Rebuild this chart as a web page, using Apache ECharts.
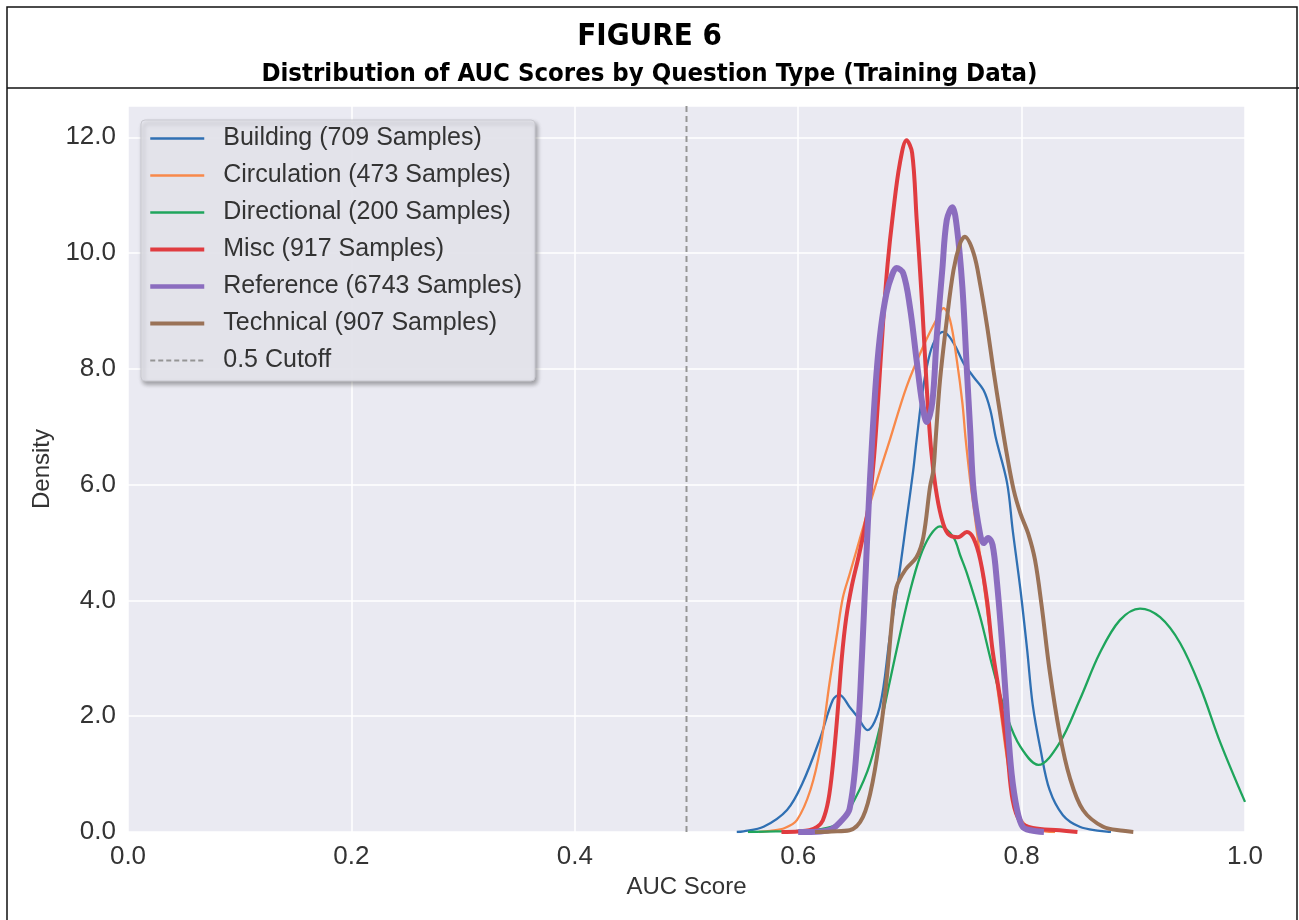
<!DOCTYPE html>
<html>
<head>
<meta charset="utf-8">
<title>Figure 6 - Distribution of AUC Scores</title>
<script src="https://cdn.jsdelivr.net/npm/echarts@6/dist/echarts.min.js"></script>
<style>
  html, body { margin: 0; background: #fff; }
  #chart { width: 1299px; height: 920px; }
</style>
</head>
<body>
<div id="chart"></div>
<script>
// names shown in the legend, same order as the series below
const seriesNames = [
  'Building (709 Samples)',
  'Circulation (473 Samples)',
  'Directional (200 Samples)',
  'Misc (917 Samples)',
  'Reference (6743 Samples)',
  'Technical (907 Samples)'
];
const cutoffName = '0.5 Cutoff';
const cutoffX = 0.5;

// density curves, [auc, density]
const building = [[0.545,0],[0.551,0.01],[0.569,0.09],[0.590,0.38],[0.604,0.85],[0.620,1.64],[0.631,2.28],[0.637,2.37],[0.646,2.16],[0.653,1.99],[0.662,1.76],[0.673,2.16],[0.682,3.37],[0.691,4.53],[0.697,5.39],[0.703,6.25],[0.706,6.77],[0.712,7.69],[0.718,8.27],[0.724,8.55],[0.730,8.64],[0.739,8.45],[0.748,8.10],[0.757,7.86],[0.766,7.63],[0.772,7.29],[0.777,6.80],[0.787,6.03],[0.792,5.22],[0.799,4.18],[0.805,3.14],[0.810,2.19],[0.817,1.42],[0.825,0.73],[0.837,0.29],[0.852,0.09],[0.870,0.02],[0.880,0]];
const circulation = [[0.565,0],[0.575,0.02],[0.588,0.07],[0.599,0.21],[0.611,0.73],[0.620,1.47],[0.628,2.57],[0.635,3.45],[0.640,4.05],[0.646,4.45],[0.652,4.85],[0.659,5.32],[0.671,6.10],[0.682,6.77],[0.697,7.69],[0.712,8.39],[0.724,8.86],[0.730,9.05],[0.736,8.84],[0.742,8.15],[0.747,7.41],[0.750,6.77],[0.755,5.91],[0.763,4.75],[0.772,3.40],[0.781,2.11],[0.790,0.90],[0.799,0.24],[0.808,0.07],[0.821,0.01],[0.830,0]];
const directional = [[0.555,0],[0.580,0.01],[0.600,0.02],[0.620,0.05],[0.635,0.14],[0.646,0.40],[0.662,1.05],[0.673,1.80],[0.682,2.60],[0.691,3.40],[0.700,4.15],[0.709,4.75],[0.718,5.12],[0.727,5.28],[0.739,5.09],[0.745,4.78],[0.751,4.47],[0.763,3.71],[0.774,2.85],[0.787,1.99],[0.799,1.47],[0.815,1.16],[0.834,1.54],[0.852,2.28],[0.870,3.09],[0.888,3.66],[0.906,3.86],[0.924,3.71],[0.942,3.26],[0.960,2.50],[0.978,1.54],[1.0,0.52]];
const misc = [[0.585,0],[0.600,0.01],[0.610,0.03],[0.617,0.09],[0.622,0.20],[0.627,0.55],[0.631,1.15],[0.635,2.00],[0.639,3.00],[0.643,3.70],[0.648,4.25],[0.654,4.75],[0.659,5.20],[0.664,5.75],[0.668,6.50],[0.672,7.60],[0.676,8.80],[0.680,9.80],[0.685,10.70],[0.691,11.55],[0.697,11.95],[0.702,11.73],[0.706,10.60],[0.711,9.10],[0.715,7.70],[0.719,6.60],[0.723,5.95],[0.728,5.45],[0.734,5.15],[0.743,5.09],[0.751,5.18],[0.757,5.07],[0.763,4.70],[0.769,4.01],[0.774,3.14],[0.781,2.28],[0.787,1.42],[0.792,0.55],[0.799,0.17],[0.810,0.07],[0.834,0.03],[0.850,0]];
const reference = [[0.600,0],[0.620,0.01],[0.630,0.05],[0.637,0.16],[0.646,0.40],[0.653,1.60],[0.657,3.00],[0.660,4.30],[0.663,5.60],[0.666,6.70],[0.670,7.90],[0.674,8.70],[0.679,9.30],[0.684,9.62],[0.688,9.74],[0.694,9.65],[0.700,9.07],[0.706,8.15],[0.711,7.41],[0.715,7.08],[0.720,7.41],[0.724,8.55],[0.729,9.71],[0.733,10.57],[0.738,10.79],[0.742,10.45],[0.747,9.41],[0.751,7.98],[0.754,6.94],[0.757,5.91],[0.763,5.13],[0.766,4.99],[0.770,5.08],[0.774,4.96],[0.778,4.30],[0.783,3.14],[0.787,1.99],[0.791,1.02],[0.796,0.38],[0.801,0.09],[0.808,0.03],[0.820,0]];
const technical = [[0.615,0],[0.630,0.01],[0.646,0.03],[0.658,0.26],[0.667,0.90],[0.675,1.93],[0.680,2.80],[0.684,3.66],[0.688,4.23],[0.696,4.53],[0.706,4.75],[0.712,5.09],[0.718,5.96],[0.721,6.25],[0.723,6.77],[0.727,7.81],[0.733,8.84],[0.739,9.70],[0.745,10.17],[0.749,10.28],[0.757,10.00],[0.763,9.45],[0.769,8.75],[0.775,7.95],[0.781,7.20],[0.787,6.50],[0.793,5.90],[0.799,5.50],[0.806,5.15],[0.812,4.70],[0.818,3.90],[0.825,2.80],[0.834,1.71],[0.843,0.95],[0.855,0.38],[0.873,0.09],[0.891,0.02],[0.900,0]];

const curves = [building, circulation, directional, misc, reference, technical];
const colors = ['#3070b3', '#f8894a', '#1fa55c', '#e03c40', '#8b6dbf', '#9a7257'];
const widths = [2.3, 2.3, 2.3, 4, 6, 4];

const xTicks = [0.0, 0.2, 0.4, 0.6, 0.8, 1.0];
const yTicks = [0.0, 2.0, 4.0, 6.0, 8.0, 10.0, 12.0];
const yTop = 12.54;

const chart = echarts.init(document.getElementById('chart'));

const series = curves.map((pts, i) => ({
  name: seriesNames[i],
  type: 'line',
  data: pts,
  smooth: 0.35,
  symbol: 'none',
  lineStyle: { color: colors[i], width: widths[i] },
  itemStyle: { color: colors[i] }
}));
series.push({
  name: cutoffName,
  type: 'line',
  data: [[cutoffX, 0], [cutoffX, yTop]],
  symbol: 'none',
  lineStyle: { color: '#959595', width: 2, type: [6, 4] },
  itemStyle: { color: '#959595' }
});

// legend entries: plain line samples, no marker dot
const legendData = seriesNames.map((n, i) => ({
  name: n,
  itemStyle: { opacity: 0 },
  lineStyle: { color: colors[i], width: Math.min(widths[i], 4.5) }
}));
legendData.push({
  name: cutoffName,
  itemStyle: { opacity: 0 },
  lineStyle: { color: '#959595', width: 2, type: [5, 3] }
});

const font = "'Liberation Sans', Arial, sans-serif";
const headFont = "'Liberation Sans Narrow', 'DejaVu Sans Condensed', sans-serif";

const option = {
  animation: false,
  backgroundColor: '#ffffff',
  textStyle: { fontFamily: font },
  title: [
    {
      text: 'FIGURE 6', left: 'center', top: 16,
      textStyle: { fontFamily: headFont, fontWeight: 'bold', fontSize: 31, color: '#000' }
    },
    {
      text: 'Distribution of AUC Scores by Question Type (Training Data)', left: 'center', top: 56,
      textStyle: { fontFamily: headFont, fontWeight: 'bold', fontSize: 25.5, color: '#000' }
    }
  ],
  graphic: [
    // frame round the figure and the rule under the heading
    { type: 'rect', shape: { x: 7, y: 7, width: 1290, height: 930 }, style: { fill: 'none', stroke: '#111', lineWidth: 1.5 }, silent: true },
    { type: 'line', shape: { x1: 7, y1: 88, x2: 1299, y2: 88 }, style: { stroke: '#111', lineWidth: 1.5 }, silent: true }
  ],
  grid: {
    left: 128, right: 54, top: 106, bottom: 88,
    show: true, backgroundColor: '#eaeaf2', borderWidth: 0,
    outerBoundsMode: 'none'
  },
  legend: {
    orient: 'vertical', left: 141, top: 120,
    data: legendData,
    itemWidth: 54, itemHeight: 14, itemGap: 12,
    padding: [6, 13, 8, 7],
    backgroundColor: 'rgba(234,234,242,0.9)',
    borderColor: '#c9c9d0', borderWidth: 1, borderRadius: 4,
    shadowBlur: 4, shadowOffsetX: 2, shadowOffsetY: 3, shadowColor: 'rgba(0,0,0,0.35)',
    textStyle: { fontFamily: font, fontSize: 25, color: '#333', padding: [0, 0, 0, 14] }
  },
  xAxis: {
    type: 'value', min: 0, max: 1, interval: 0.2,
    name: 'AUC Score', nameLocation: 'middle', nameGap: 42,
    nameTextStyle: { fontFamily: font, fontSize: 24, color: '#333' },
    axisLine: { show: false }, axisTick: { show: false },
    axisLabel: {
      fontFamily: font, fontSize: 26, color: '#333', margin: 12,
      formatter: v => xTicks.some(t => Math.abs(t - v) < 1e-6) ? v.toFixed(1) : ''
    },
    splitLine: { show: true, lineStyle: { color: '#ffffff', width: 1.5 } }
  },
  yAxis: {
    type: 'value', min: 0, max: yTop, interval: 2,
    name: 'Density', nameLocation: 'middle', nameGap: 70,
    nameTextStyle: { fontFamily: font, fontSize: 24, color: '#333' },
    axisLine: { show: false }, axisTick: { show: false },
    axisLabel: {
      fontFamily: font, fontSize: 26, color: '#333', margin: 12,
      formatter: v => yTicks.some(t => Math.abs(t - v) < 1e-6) ? v.toFixed(1) : ''
    },
    splitLine: { show: true, lineStyle: { color: '#ffffff', width: 1.5 } }
  },
  series: series
};

chart.setOption(option);
</script>
</body>
</html>
